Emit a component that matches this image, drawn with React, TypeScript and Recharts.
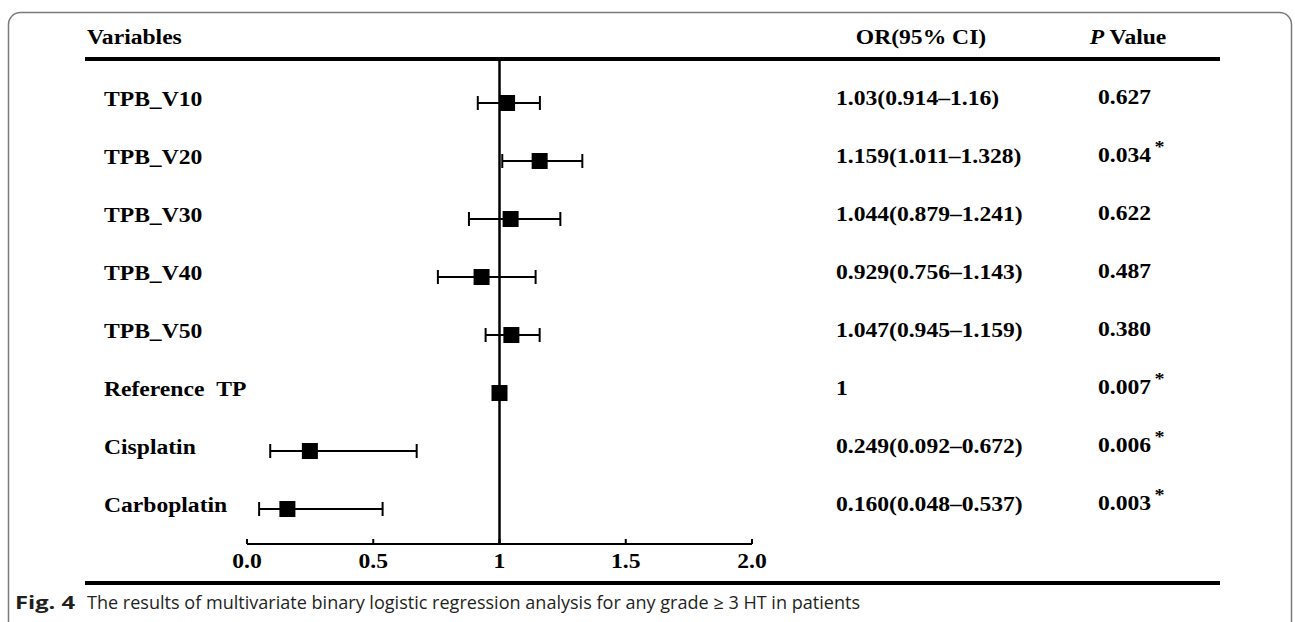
import React from 'react';
import { ScatterChart, Scatter, XAxis, YAxis, ErrorBar, ReferenceLine } from 'recharts';

const variables = ['TPB_V10', 'TPB_V20', 'TPB_V30', 'TPB_V40', 'TPB_V50', 'Reference\u00a0\u00a0TP', 'Cisplatin', 'Carboplatin'];
const oddsRatios = [1.03, 1.159, 1.044, 0.929, 1.047, 1, 0.249, 0.16];
const ciLower = [0.914, 1.011, 0.879, 0.756, 0.945, 1, 0.092, 0.048];
const ciUpper = [1.16, 1.328, 1.241, 1.143, 1.159, 1, 0.672, 0.537];
const orLabels = [
  '1.03(0.914\u20131.16)',
  '1.159(1.011\u20131.328)',
  '1.044(0.879\u20131.241)',
  '0.929(0.756\u20131.143)',
  '1.047(0.945\u20131.159)',
  '1',
  '0.249(0.092\u20130.672)',
  '0.160(0.048\u20130.537)',
];
const pValues = ['0.627', '0.034', '0.622', '0.487', '0.380', '0.007', '0.006', '0.003'];
const significant = [false, true, false, false, false, true, true, true];
const xTicks = [0, 0.5, 1, 1.5, 2];
const xTickLabels = ['0.0', '0.5', '1', '1.5', '2.0'];
const rowIndex = [0, 1, 2, 3, 4, 5, 6, 7];

const data = variables.map((name, i) => ({
  name,
  row: rowIndex[i],
  or: oddsRatios[i],
  err: [oddsRatios[i] - ciLower[i], ciUpper[i] - oddsRatios[i]],
}));

const SERIF = "'Times New Roman', 'Liberation Serif', serif";
const SX = 1.18;

function SText({ x, y, anchor = 'start', size = 20, italic = false, children }: any) {
  return (
    <text
      transform={`translate(${x} ${y}) scale(${SX} 1)`}
      x={0}
      y={0}
      textAnchor={anchor}
      fontFamily={SERIF}
      fontWeight="bold"
      fontStyle={italic ? 'italic' : 'normal'}
      fontSize={size}
      fill="#000"
    >
      {children}
    </text>
  );
}

function RowTick(props: any) {
  const { y, payload } = props;
  const i = payload.value as number;
  if (i < 0 || i > 7) return null;
  return (
    <g>
      <SText x={104} y={y + 3}>{variables[i]}</SText>
      <SText x={836} y={y + 2}>{orLabels[i]}</SText>
      <text
        transform={`translate(1098 ${y + 1}) scale(${SX} 1)`}
        fontFamily={SERIF}
        fontWeight="bold"
        fontSize={20}
        fill="#000"
      >
        {pValues[i]}
        {significant[i] ? (
          <tspan dx={3} dy={-10} fontSize={17}>*</tspan>
        ) : null}
      </text>
    </g>
  );
}

function AxisTick(props: any) {
  const { x, y, payload } = props;
  const idx = xTicks.indexOf(payload.value);
  return (
    <g>
      <line x1={x} x2={x} y1={y} y2={y - 5} stroke="#000" strokeWidth={2} />
      <SText x={x} y={y + 24} anchor="middle">{idx >= 0 ? xTickLabels[idx] : ''}</SText>
    </g>
  );
}

export default function App() {
  return (
    <div style={{ position: 'absolute', left: 0, top: 0, width: 1295, height: 622, background: '#fff', overflow: 'hidden' }}>
      <svg width={1295} height={622} style={{ position: 'absolute', left: 0, top: 0 }}>
        <rect x={8.5} y={12.5} width={1283} height={700} rx={12} ry={12} fill="none" stroke="#7a7a7a" strokeWidth={1.5} />
        <line x1={85} x2={1220} y1={59} y2={59} stroke="#000" strokeWidth={4} />
        <line x1={85} x2={1220} y1={583} y2={583} stroke="#000" strokeWidth={4} />
        <SText x={87} y={44}>Variables</SText>
        <SText x={921} y={44} anchor="middle">OR(95% CI)</SText>
        <text transform={`translate(1128 44) scale(${SX} 1)`} textAnchor="middle" fontFamily={SERIF} fontWeight="bold" fontSize={20} fill="#000">
          <tspan fontStyle="italic">P</tspan> Value
        </text>
        <text x={15} y={609} fontFamily="'Open Sans', sans-serif" fontWeight="bold" fontSize={17.5} fill="#231f20" textLength={60} lengthAdjust="spacingAndGlyphs">
          Fig. 4
        </text>
        <text x={87} y={609} fontFamily="'Open Sans', sans-serif" fontSize={17.5} fill="#231f20" textLength={773} lengthAdjust="spacingAndGlyphs">
          The results of multivariate binary logistic regression analysis for any grade &#8805; 3 HT in patients
        </text>
      </svg>
      <div style={{ position: 'absolute', left: 0, top: 0 }}>
        <ScatterChart width={1295} height={622} margin={{ top: 58, right: 543, bottom: 48, left: 0 }}>
          <XAxis
            type="number"
            dataKey="or"
            domain={[0, 2]}
            allowDataOverflow
            ticks={xTicks}
            interval={0}
            height={30}
            tickSize={0}
            tickMargin={0}
            tickLine={false}
            axisLine={{ stroke: '#000', strokeWidth: 2 }}
            tick={(p: any) => <AxisTick {...p} />}
          />
          <YAxis
            type="number"
            dataKey="row"
            domain={[-0.776, 7.603]}
            allowDataOverflow
            reversed
            ticks={rowIndex}
            interval={0}
            width={247}
            axisLine={false}
            tickLine={false}
            tick={(p: any) => <RowTick {...p} />}
          />
          <ReferenceLine x={1} stroke="#000" strokeWidth={2.5} />
          <Scatter
            data={data}
            isAnimationActive={false}
            fill="#000"
            shape={(p: any) => <rect x={p.cx - 8} y={p.cy - 8} width={16} height={16} fill="#000" />}
          >
            <ErrorBar dataKey="err" direction="x" width={7} strokeWidth={2} stroke="#000" isAnimationActive={false} />
          </Scatter>
        </ScatterChart>
      </div>
    </div>
  );
}
